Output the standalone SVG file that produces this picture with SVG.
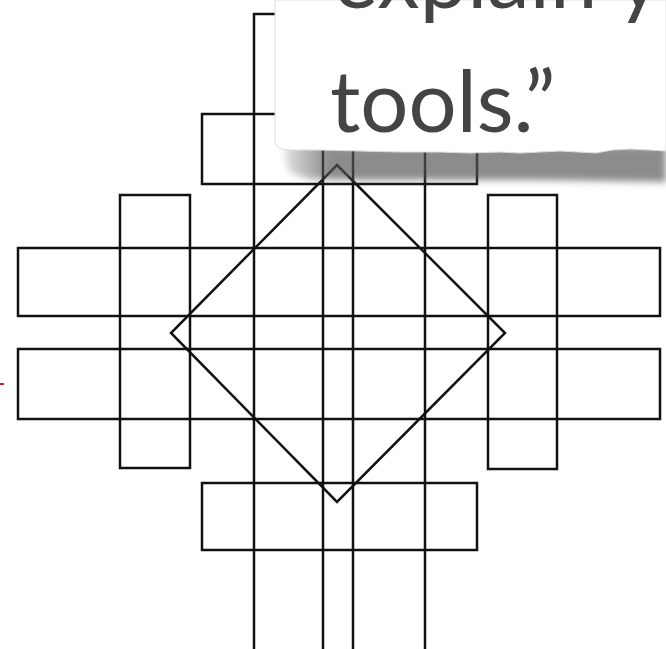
<svg xmlns="http://www.w3.org/2000/svg" width="666" height="649" viewBox="0 0 666 649">
<defs>
<style>
.ln{fill:none;stroke:#111;stroke-width:2.5;stroke-linejoin:miter}
.txt{font-family:Lato,"Open Sans","Liberation Sans",sans-serif;font-size:85px;fill:#444}
</style>
<linearGradient id="shg" gradientUnits="userSpaceOnUse" x1="282" y1="0" x2="330" y2="0">
<stop offset="0" stop-color="#555" stop-opacity="0.15"/>
<stop offset="1" stop-color="#555" stop-opacity="0.68"/>
</linearGradient>
<filter id="blur" x="-10%" y="-50%" width="120%" height="200%">
<feGaussianBlur stdDeviation="3.5"/>
</filter>
</defs>
<rect width="666" height="649" fill="#fff"/>
<g id="pattern">
<rect id="tall-outer" class="ln" x="254" y="14" width="171" height="660"/>
<rect id="tall-inner" class="ln" x="323" y="14" width="30" height="660"/>
<rect id="band-top" class="ln" x="18" y="248" width="642" height="68"/>
<rect id="band-bottom" class="ln" x="18" y="349" width="642" height="70"/>
<rect id="col-left" class="ln" x="120" y="195" width="70" height="273"/>
<rect id="col-right" class="ln" x="488" y="195" width="69" height="274"/>
<rect id="box-top" class="ln" x="202" y="114" width="275" height="70"/>
<rect id="box-bottom" class="ln" x="202" y="483" width="275" height="67"/>
<polygon id="diamond" class="ln" points="337,165 505,333 337,502 171,333"/>
</g>
<line id="red-mark" x1="0" y1="384" x2="4" y2="384" stroke="#c0203a" stroke-width="2"/>
<g id="note">
<path d="M284,146 L666,146 L666,182 L600,181 L540,180 L480,180 L420,180 L360,180 L310,179 L288,172 Z" fill="url(#shg)" filter="url(#blur)"/>
<path d="M275,0 L666,0 L666,151 L650,150 L630,149 L612,150 L596,153 L578,152 L560,151 L540,152 L520,153 L500,152 L470,153 L440,152 L400,152 L360,151 L320,150 L290,150 L281,149 Q276,147 275,141 Z" fill="#fff" stroke="#ddd" stroke-width="1"/>
<text class="txt" x="333" y="8">explain yo</text>
<text class="txt" x="330" y="132">tools.”</text>
</g>
</svg>
